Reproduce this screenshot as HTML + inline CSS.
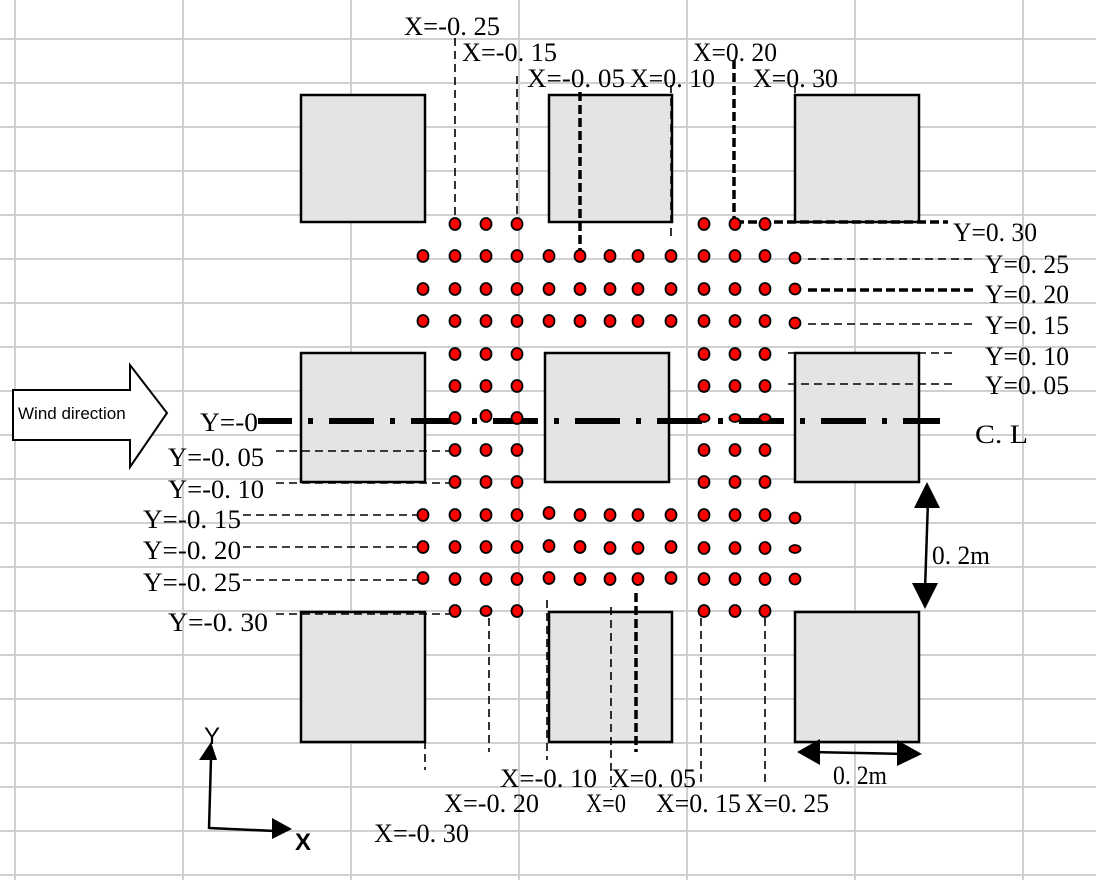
<!DOCTYPE html>
<html><head><meta charset="utf-8"><style>
html,body{margin:0;padding:0;background:#fff;}
svg{display:block;}
.t{font-family:"Liberation Serif","Noto Serif CJK SC",serif;font-size:26px;fill:#000;}
.s{font-family:"Liberation Sans","DejaVu Sans",sans-serif;fill:#000;}
</style></head><body>
<svg width="1096" height="880" viewBox="0 0 1096 880" xmlns="http://www.w3.org/2000/svg">
<g stroke="#d0d0d0" stroke-width="2">
<line x1="15" y1="0" x2="15" y2="880"/><line x1="183" y1="0" x2="183" y2="880"/><line x1="351" y1="0" x2="351" y2="880"/><line x1="519" y1="0" x2="519" y2="880"/><line x1="687" y1="0" x2="687" y2="880"/><line x1="855" y1="0" x2="855" y2="880"/><line x1="1023" y1="0" x2="1023" y2="880"/>
<line x1="0" y1="39" x2="1096" y2="39"/><line x1="0" y1="83" x2="1096" y2="83"/><line x1="0" y1="127" x2="1096" y2="127"/><line x1="0" y1="171" x2="1096" y2="171"/><line x1="0" y1="215" x2="1096" y2="215"/><line x1="0" y1="259" x2="1096" y2="259"/><line x1="0" y1="303" x2="1096" y2="303"/><line x1="0" y1="347" x2="1096" y2="347"/><line x1="0" y1="391" x2="1096" y2="391"/><line x1="0" y1="435" x2="1096" y2="435"/><line x1="0" y1="479" x2="1096" y2="479"/><line x1="0" y1="523" x2="1096" y2="523"/><line x1="0" y1="567" x2="1096" y2="567"/><line x1="0" y1="611" x2="1096" y2="611"/><line x1="0" y1="655" x2="1096" y2="655"/><line x1="0" y1="699" x2="1096" y2="699"/><line x1="0" y1="743" x2="1096" y2="743"/><line x1="0" y1="787" x2="1096" y2="787"/><line x1="0" y1="831" x2="1096" y2="831"/><line x1="0" y1="875" x2="1096" y2="875"/>
</g>
<g fill="#e4e4e4" stroke="#000" stroke-width="2.5">
<rect x="301" y="95" width="124" height="127"/><rect x="549" y="95" width="123" height="127"/><rect x="795" y="95" width="124" height="127"/>
<rect x="301" y="353" width="124" height="129"/><rect x="545" y="353" width="124" height="129"/><rect x="795" y="353" width="124" height="129"/>
<rect x="301" y="612" width="124" height="130"/><rect x="549" y="612" width="123" height="130"/><rect x="795" y="612" width="124" height="130"/>
</g>
<g stroke="#000" fill="none" stroke-width="1.6" stroke-dasharray="8 5">
<line x1="455" y1="38" x2="455" y2="218"/><line x1="517" y1="76" x2="517" y2="218"/><line x1="671" y1="85" x2="671" y2="240"/><line x1="795" y1="85" x2="795" y2="96"/>
<line x1="425" y1="611" x2="425" y2="770"/><line x1="489" y1="618" x2="489" y2="752"/><line x1="547" y1="600" x2="547" y2="760"/><line x1="611" y1="607" x2="611" y2="790"/><line x1="701" y1="618" x2="701" y2="785"/><line x1="765" y1="618" x2="765" y2="782"/>
<line x1="808" y1="259" x2="975" y2="259"/><line x1="808" y1="324" x2="975" y2="324"/><line x1="788" y1="353" x2="955" y2="353"/><line x1="788" y1="384" x2="955" y2="384"/>
<line x1="276" y1="451" x2="455" y2="451"/><line x1="276" y1="483" x2="455" y2="483"/><line x1="243" y1="515" x2="420" y2="515"/><line x1="243" y1="547" x2="420" y2="547"/><line x1="243" y1="580" x2="420" y2="580"/><line x1="276" y1="614" x2="455" y2="614"/>
</g>
<g stroke="#000" fill="none" stroke-width="3.5" stroke-dasharray="9 4">
<line x1="580" y1="92" x2="580" y2="250"/><line x1="734" y1="60" x2="734" y2="222"/><line x1="636" y1="593" x2="636" y2="752"/>
<line x1="735" y1="222" x2="948" y2="222"/><line x1="808" y1="290" x2="975" y2="290"/>
</g>
<line x1="258" y1="421" x2="940" y2="421" stroke="#000" stroke-width="6" stroke-dasharray="45 16 5 16" stroke-dashoffset="11"/>
<g fill="#f00" stroke="#000" stroke-width="1.8">
<ellipse cx="455" cy="224" rx="5.5" ry="6"/><ellipse cx="486" cy="224" rx="5.5" ry="6"/><ellipse cx="517" cy="224" rx="5.5" ry="6"/><ellipse cx="704" cy="224" rx="5.5" ry="6"/><ellipse cx="735" cy="224" rx="5.5" ry="6"/><ellipse cx="765" cy="224" rx="5.5" ry="6"/>
<ellipse cx="423" cy="256" rx="5.5" ry="6"/><ellipse cx="455" cy="256" rx="5.5" ry="6"/><ellipse cx="486" cy="256" rx="5.5" ry="6"/><ellipse cx="517" cy="256" rx="5.5" ry="6"/><ellipse cx="549" cy="256" rx="5.5" ry="6"/><ellipse cx="580" cy="256" rx="5.5" ry="6"/><ellipse cx="610" cy="256" rx="5.5" ry="6"/><ellipse cx="638" cy="256" rx="5.5" ry="6"/><ellipse cx="671" cy="256" rx="5.5" ry="6"/><ellipse cx="704" cy="256" rx="5.5" ry="6"/><ellipse cx="735" cy="256" rx="5.5" ry="6"/><ellipse cx="765" cy="256" rx="5.5" ry="6"/><ellipse cx="795" cy="258" rx="5.5" ry="5.5"/>
<ellipse cx="423" cy="289" rx="5.5" ry="6"/><ellipse cx="455" cy="289" rx="5.5" ry="6"/><ellipse cx="486" cy="289" rx="5.5" ry="6"/><ellipse cx="517" cy="289" rx="5.5" ry="6"/><ellipse cx="549" cy="289" rx="5.5" ry="6"/><ellipse cx="580" cy="289" rx="5.5" ry="6"/><ellipse cx="610" cy="289" rx="5.5" ry="6"/><ellipse cx="638" cy="289" rx="5.5" ry="6"/><ellipse cx="671" cy="289" rx="5.5" ry="6"/><ellipse cx="704" cy="289" rx="5.5" ry="6"/><ellipse cx="735" cy="289" rx="5.5" ry="6"/><ellipse cx="765" cy="289" rx="5.5" ry="6"/><ellipse cx="795" cy="289" rx="5.5" ry="5.5"/>
<ellipse cx="423" cy="321" rx="5.5" ry="6"/><ellipse cx="455" cy="321" rx="5.5" ry="6"/><ellipse cx="486" cy="321" rx="5.5" ry="6"/><ellipse cx="517" cy="321" rx="5.5" ry="6"/><ellipse cx="549" cy="321" rx="5.5" ry="6"/><ellipse cx="580" cy="321" rx="5.5" ry="6"/><ellipse cx="610" cy="321" rx="5.5" ry="6"/><ellipse cx="638" cy="321" rx="5.5" ry="6"/><ellipse cx="671" cy="321" rx="5.5" ry="6"/><ellipse cx="704" cy="321" rx="5.5" ry="6"/><ellipse cx="735" cy="321" rx="5.5" ry="6"/><ellipse cx="765" cy="321" rx="5.5" ry="6"/><ellipse cx="795" cy="323" rx="5.5" ry="5.5"/>
<ellipse cx="455" cy="354" rx="5.5" ry="6"/><ellipse cx="486" cy="354" rx="5.5" ry="6"/><ellipse cx="517" cy="354" rx="5.5" ry="6"/><ellipse cx="704" cy="354" rx="5.5" ry="6"/><ellipse cx="735" cy="354" rx="5.5" ry="6"/><ellipse cx="765" cy="354" rx="5.5" ry="6"/>
<ellipse cx="455" cy="386" rx="5.5" ry="6"/><ellipse cx="486" cy="386" rx="5.5" ry="6"/><ellipse cx="517" cy="386" rx="5.5" ry="6"/><ellipse cx="704" cy="386" rx="5.5" ry="6"/><ellipse cx="735" cy="386" rx="5.5" ry="6"/><ellipse cx="765" cy="386" rx="5.5" ry="6"/>
<ellipse cx="455" cy="418" rx="5.5" ry="6"/><ellipse cx="486" cy="416" rx="5.5" ry="6"/><ellipse cx="517" cy="418" rx="5.5" ry="6"/><ellipse cx="704" cy="418" rx="5.5" ry="4"/><ellipse cx="735" cy="418" rx="5.5" ry="4"/><ellipse cx="765" cy="418" rx="5.5" ry="4"/>
<ellipse cx="455" cy="450" rx="5.5" ry="6"/><ellipse cx="486" cy="450" rx="5.5" ry="6"/><ellipse cx="517" cy="450" rx="5.5" ry="6"/><ellipse cx="704" cy="450" rx="5.5" ry="6"/><ellipse cx="735" cy="450" rx="5.5" ry="6"/><ellipse cx="765" cy="450" rx="5.5" ry="6"/>
<ellipse cx="455" cy="482" rx="5.5" ry="6"/><ellipse cx="486" cy="482" rx="5.5" ry="6"/><ellipse cx="517" cy="482" rx="5.5" ry="6"/><ellipse cx="704" cy="482" rx="5.5" ry="6"/><ellipse cx="735" cy="482" rx="5.5" ry="6"/><ellipse cx="765" cy="482" rx="5.5" ry="6"/>
<ellipse cx="423" cy="515" rx="5.5" ry="6"/><ellipse cx="455" cy="515" rx="5.5" ry="6"/><ellipse cx="486" cy="515" rx="5.5" ry="6"/><ellipse cx="517" cy="515" rx="5.5" ry="6"/><ellipse cx="549" cy="513" rx="5.5" ry="6"/><ellipse cx="580" cy="515" rx="5.5" ry="6"/><ellipse cx="610" cy="515" rx="5.5" ry="6"/><ellipse cx="638" cy="515" rx="5.5" ry="6"/><ellipse cx="671" cy="515" rx="5.5" ry="6"/><ellipse cx="704" cy="515" rx="5.5" ry="6"/><ellipse cx="735" cy="515" rx="5.5" ry="6"/><ellipse cx="765" cy="515" rx="5.5" ry="6"/><ellipse cx="795" cy="518" rx="5.5" ry="5.5"/>
<ellipse cx="423" cy="547" rx="5.5" ry="6"/><ellipse cx="455" cy="547" rx="5.5" ry="6"/><ellipse cx="486" cy="547" rx="5.5" ry="6"/><ellipse cx="517" cy="547" rx="5.5" ry="6"/><ellipse cx="549" cy="546" rx="5.5" ry="6"/><ellipse cx="580" cy="547" rx="5.5" ry="6"/><ellipse cx="610" cy="548" rx="5.5" ry="6"/><ellipse cx="638" cy="548" rx="5.5" ry="6"/><ellipse cx="671" cy="547" rx="5.5" ry="6"/><ellipse cx="704" cy="548" rx="5.5" ry="6"/><ellipse cx="735" cy="548" rx="5.5" ry="6"/><ellipse cx="765" cy="548" rx="5.5" ry="6"/><ellipse cx="795" cy="549" rx="5.5" ry="4"/>
<ellipse cx="423" cy="578" rx="5.5" ry="6"/><ellipse cx="455" cy="579" rx="5.5" ry="6"/><ellipse cx="486" cy="579" rx="5.5" ry="6"/><ellipse cx="517" cy="579" rx="5.5" ry="6"/><ellipse cx="549" cy="578" rx="5.5" ry="6"/><ellipse cx="580" cy="579" rx="5.5" ry="6"/><ellipse cx="610" cy="579" rx="5.5" ry="6"/><ellipse cx="638" cy="579" rx="5.5" ry="6"/><ellipse cx="671" cy="578" rx="5.5" ry="6"/><ellipse cx="704" cy="579" rx="5.5" ry="6"/><ellipse cx="735" cy="579" rx="5.5" ry="6"/><ellipse cx="765" cy="579" rx="5.5" ry="6"/><ellipse cx="795" cy="579" rx="5.5" ry="5.5"/>
<ellipse cx="455" cy="611" rx="5.5" ry="6"/><ellipse cx="486" cy="611" rx="5.5" ry="5"/><ellipse cx="517" cy="611" rx="5.5" ry="6"/><ellipse cx="704" cy="611" rx="5.5" ry="6"/><ellipse cx="735" cy="611" rx="5.5" ry="6"/><ellipse cx="765" cy="611" rx="5.5" ry="6"/>
</g>
<polygon points="13,390 130,390 130,365 167,413 130,467 130,440 13,440" fill="#fff" stroke="#000" stroke-width="2"/>
<text class="s" x="18" y="419" style="font-size:17px">Wind direction</text>
<g stroke="#000" stroke-width="2.5" fill="none"><line x1="209" y1="829" x2="211" y2="758"/><line x1="209" y1="828" x2="275" y2="831"/></g>
<polygon points="211,742 199,760 217,760" fill="#000"/>
<polygon points="292,829 272,818 272,839" fill="#000"/>
<text class="s" x="204" y="744" style="font-size:24px">Y</text>
<text class="s" x="295" y="850" style="font-size:24px;font-weight:bold">X</text>
<line x1="928" y1="500" x2="925" y2="590" stroke="#000" stroke-width="2.5"/>
<polygon points="927,482 914,508 940,508" fill="#000"/>
<polygon points="925,609 912,583 938,583" fill="#000"/>
<line x1="810" y1="752" x2="906" y2="754" stroke="#000" stroke-width="2.5"/>
<polygon points="797,752 820,739 820,765" fill="#000"/>
<polygon points="922,754 897,740 897,766" fill="#000"/>
<g class="t">
<text x="404" y="35" textLength="96" lengthAdjust="spacingAndGlyphs">X=-0. 25</text>
<text x="462" y="61" textLength="95" lengthAdjust="spacingAndGlyphs">X=-0. 15</text>
<text x="527" y="87" textLength="98" lengthAdjust="spacingAndGlyphs">X=-0. 05</text>
<text x="630" y="87" textLength="85" lengthAdjust="spacingAndGlyphs">X=0. 10</text>
<text x="693" y="61" textLength="84" lengthAdjust="spacingAndGlyphs">X=0. 20</text>
<text x="753" y="87" textLength="85" lengthAdjust="spacingAndGlyphs">X=0. 30</text>
<text x="953" y="241" textLength="84" lengthAdjust="spacingAndGlyphs">Y=0. 30</text>
<text x="985" y="273" textLength="84" lengthAdjust="spacingAndGlyphs">Y=0. 25</text>
<text x="985" y="303" textLength="84" lengthAdjust="spacingAndGlyphs">Y=0. 20</text>
<text x="985" y="334" textLength="84" lengthAdjust="spacingAndGlyphs">Y=0. 15</text>
<text x="985" y="365" textLength="84" lengthAdjust="spacingAndGlyphs">Y=0. 10</text>
<text x="985" y="394" textLength="84" lengthAdjust="spacingAndGlyphs">Y=0. 05</text>
<text x="975" y="443" textLength="53" lengthAdjust="spacingAndGlyphs">C. L</text>
<text x="200" y="431" textLength="58" lengthAdjust="spacingAndGlyphs">Y=-0</text>
<text x="168" y="466" textLength="96" lengthAdjust="spacingAndGlyphs">Y=-0. 05</text>
<text x="168" y="498" textLength="96" lengthAdjust="spacingAndGlyphs">Y=-0. 10</text>
<text x="143" y="528" textLength="98" lengthAdjust="spacingAndGlyphs">Y=-0. 15</text>
<text x="143" y="559" textLength="98" lengthAdjust="spacingAndGlyphs">Y=-0. 20</text>
<text x="143" y="591" textLength="98" lengthAdjust="spacingAndGlyphs">Y=-0. 25</text>
<text x="168" y="631" textLength="100" lengthAdjust="spacingAndGlyphs">Y=-0. 30</text>
<text x="500" y="787" textLength="97" lengthAdjust="spacingAndGlyphs">X=-0. 10</text>
<text x="611" y="787" textLength="85" lengthAdjust="spacingAndGlyphs">X=0. 05</text>
<text x="444" y="812" textLength="95" lengthAdjust="spacingAndGlyphs">X=-0. 20</text>
<text x="586" y="812" textLength="40" lengthAdjust="spacingAndGlyphs">X=0</text>
<text x="656" y="812" textLength="85" lengthAdjust="spacingAndGlyphs">X=0. 15</text>
<text x="745" y="812" textLength="84" lengthAdjust="spacingAndGlyphs">X=0. 25</text>
<text x="374" y="842" textLength="95" lengthAdjust="spacingAndGlyphs">X=-0. 30</text>
<text x="932" y="564" textLength="58" lengthAdjust="spacingAndGlyphs">0. 2m</text>
<text x="833" y="784" textLength="54" lengthAdjust="spacingAndGlyphs">0. 2m</text>
</g>
</svg>
</body></html>
